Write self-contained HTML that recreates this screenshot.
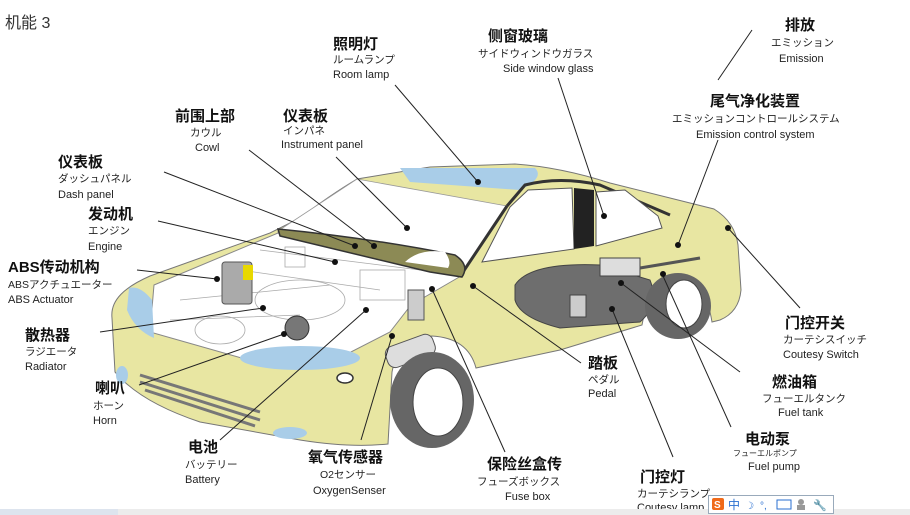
<!DOCTYPE html>
<html><head><meta charset="utf-8"><style>
html,body{margin:0;padding:0;background:#fff;width:910px;height:515px;overflow:hidden}
svg{display:block}
.c{font-family:"Liberation Sans","Noto Sans CJK SC",sans-serif;font-size:15px;font-weight:bold;fill:#111}
.j{font-family:"Liberation Sans","Noto Sans CJK JP",sans-serif;font-size:10.5px;fill:#222}
.e{font-family:"Liberation Sans",sans-serif;font-size:11px;fill:#222}
.l{stroke:#222;stroke-width:1;fill:none}
.d{fill:#111}
</style></head><body>
<svg width="910" height="515" viewBox="0 0 910 515" xmlns="http://www.w3.org/2000/svg">
<rect width="910" height="515" fill="#fff"/>
<!-- car body -->
<path d="M112,318 C110,300 125,287 150,276 L270,233 L300,218 Q330,195 357,179 L430,167 L515,164 Q560,167 610,183 L714,209 Q735,222 738,245 L741,290 Q739,312 720,320 L712,322 Q705,278 676,276 Q650,280 642,325 L560,350 L476,368 Q468,338 432,336 Q398,340 392,372 L388,444 Q350,448 300,440 L200,422 Q140,402 115,372 Z" fill="#e8e6a2" stroke="#777" stroke-width="1"/>
<!-- windshield -->
<path d="M278,231 L357,179 L507,206 L461,275 L278,236 Z" fill="#fff" stroke="#999" stroke-width="0.8"/>
<!-- sunroof -->
<path d="M400,168 L535,168 Q545,178 520,190 L410,182 Z" fill="#a9cde8"/>
<!-- roof dark edge -->
<path d="M507,206 L525,185 Q560,176 600,185 L670,215" stroke="#333" stroke-width="3" fill="none"/>
<path d="M507,206 L461,275" stroke="#333" stroke-width="3"/>
<!-- side windows -->
<path d="M482,262 L510,207 L528,190 L572,188 L574,249 Z" fill="#fff" stroke="#555"/>
<path d="M574,188 L594,190 L594,246 L574,249 Z" fill="#222"/>
<path d="M596,192 L625,190 L658,216 L662,228 L596,246 Z" fill="#fff" stroke="#555"/>
<!-- engine bay -->
<path d="M154,285 L278,233 L461,276 L411,305 L390,332 L349,353 L245,359 L150,332 Z" fill="#fff" stroke="#888"/>
<g stroke="#aaa" fill="none" stroke-width="0.8">
<ellipse cx="220" cy="330" rx="25" ry="14"/><ellipse cx="300" cy="300" rx="45" ry="20"/>
<path d="M180,300 L330,285 M170,320 L300,315 M240,270 L380,290 M260,250 L420,270"/>
<rect x="285" y="247" width="20" height="20"/><rect x="360" y="270" width="45" height="30"/>
</g>
<!-- dash -->
<path d="M278,229 Q370,238 455,255 Q470,265 462,277 L430,272 L280,236 Z" fill="#8c8a55" stroke="#333" stroke-width="1.5"/>
<path d="M405,262 Q420,248 445,252 Q452,262 448,268 Z" fill="#fff"/>
<!-- blue parts -->
<ellipse cx="300" cy="358" rx="60" ry="12" fill="#a9cde8"/>
<path d="M129,288 Q140,285 152,300 L154,338 Q135,330 127,310 Z" fill="#a9cde8"/>
<ellipse cx="290" cy="433" rx="17" ry="6" fill="#a9cde8"/>
<ellipse cx="122" cy="375" rx="6" ry="9" fill="#a9cde8"/>
<ellipse cx="345" cy="378" rx="8" ry="5" fill="#fff" stroke="#333" stroke-width="1.5"/>
<!-- grille -->
<path d="M140,375 L260,412 M140,382 L260,420 M145,390 L255,426" stroke="#777" stroke-width="3"/>
<!-- components -->
<rect x="222" y="262" width="30" height="42" rx="3" fill="#aaa" stroke="#555"/>
<rect x="243" y="265" width="10" height="15" fill="#e8d800"/>
<circle cx="297" cy="328" r="12" fill="#777" stroke="#333"/>
<rect x="385" y="340" width="50" height="22" rx="8" fill="#ddd" stroke="#555" transform="rotate(-20 410 350)"/>
<rect x="408" y="290" width="16" height="30" fill="#ccc" stroke="#555"/>
<!-- fuel tank -->
<path d="M515,285 Q530,262 600,265 L650,280 Q660,305 640,322 L560,328 Q520,318 515,300 Z" fill="#6e6e6e" stroke="#444"/>
<rect x="600" y="258" width="40" height="18" fill="#ddd" stroke="#444"/>
<path d="M640,268 L700,258" stroke="#555" stroke-width="3"/>
<rect x="570" y="295" width="16" height="22" fill="#ccc" stroke="#444"/>
<!-- wheels -->
<ellipse cx="432" cy="400" rx="42" ry="48" fill="#666"/>
<ellipse cx="438" cy="402" rx="25" ry="34" fill="#fff" stroke="#444"/>
<ellipse cx="678" cy="306" rx="33" ry="33" fill="#666"/>
<ellipse cx="684" cy="304" rx="18" ry="24" fill="#fff" stroke="#444"/>
<!-- leader lines -->
<g class="l">
<path d="M395,85 L478,182"/><path d="M558,78 L604,216"/><path d="M752,30 L718,80"/>
<path d="M718,140 L678,245"/><path d="M728,228 L800,308"/>
<path d="M249,150 L374,246"/><path d="M336,157 L407,228"/><path d="M164,172 L355,246"/>
<path d="M158,221 L335,262"/><path d="M137,270 L217,279"/><path d="M100,332 L263,308"/>
<path d="M139,385 L284,334"/><path d="M220,440 L366,310"/><path d="M361,440 L392,336"/>
<path d="M505,452 L432,289"/><path d="M581,363 L473,286"/><path d="M673,457 L612,309"/>
<path d="M740,372 L621,283"/><path d="M731,427 L663,276"/>
</g>
<g class="d">
<circle cx="478" cy="182" r="3"/><circle cx="604" cy="216" r="3"/><circle cx="678" cy="245" r="3"/>
<circle cx="728" cy="228" r="3"/><circle cx="374" cy="246" r="3"/><circle cx="407" cy="228" r="3"/>
<circle cx="355" cy="246" r="3"/><circle cx="335" cy="262" r="3"/><circle cx="217" cy="279" r="3"/>
<circle cx="263" cy="308" r="3"/><circle cx="284" cy="334" r="3"/><circle cx="366" cy="310" r="3"/>
<circle cx="392" cy="336" r="3"/><circle cx="432" cy="289" r="3"/><circle cx="473" cy="286" r="3"/>
<circle cx="612" cy="309" r="3"/><circle cx="621" cy="283" r="3"/><circle cx="663" cy="274" r="3"/>
</g>
<!-- labels -->
<text x="5" y="28" style="font-family:'Liberation Sans','Noto Sans CJK SC',sans-serif;font-size:16px;fill:#333">机能 3</text>
<text class="c" x="333" y="49">照明灯</text><text class="j" x="333" y="63">ルームランプ</text><text class="e" x="333" y="78">Room lamp</text>
<text class="c" x="488" y="41">侧窗玻璃</text><text class="j" x="478" y="57">サイドウィンドウガラス</text><text class="e" x="503" y="72">Side window glass</text>
<text class="c" x="785" y="30">排放</text><text class="j" x="771" y="46">エミッション</text><text class="e" x="779" y="62">Emission</text>
<text class="c" x="710" y="106">尾气净化装置</text><text class="j" x="672" y="122">エミッションコントロールシステム</text><text class="e" x="696" y="138">Emission control system</text>
<text class="c" x="175" y="121">前围上部</text><text class="j" x="190" y="136">カウル</text><text class="e" x="195" y="151">Cowl</text>
<text class="c" x="283" y="121">仪表板</text><text class="j" x="283" y="134">インパネ</text><text class="e" x="281" y="148">Instrument panel</text>
<text class="c" x="58" y="167">仪表板</text><text class="j" x="58" y="182">ダッシュパネル</text><text class="e" x="58" y="198">Dash panel</text>
<text class="c" x="88" y="219">发动机</text><text class="j" x="88" y="234">エンジン</text><text class="e" x="88" y="250">Engine</text>
<text class="c" x="8" y="272">ABS传动机构</text><text class="j" x="8" y="288">ABSアクチュエーター</text><text class="e" x="8" y="303">ABS Actuator</text>
<text class="c" x="25" y="340">散热器</text><text class="j" x="25" y="355">ラジエータ</text><text class="e" x="25" y="370">Radiator</text>
<text class="c" x="95" y="393">喇叭</text><text class="j" x="93" y="409">ホーン</text><text class="e" x="93" y="424">Horn</text>
<text class="c" x="188" y="452">电池</text><text class="j" x="185" y="468">バッテリー</text><text class="e" x="185" y="483">Battery</text>
<text class="c" x="308" y="462">氧气传感器</text><text class="j" x="320" y="478">O2センサー</text><text class="e" x="313" y="494">OxygenSenser</text>
<text class="c" x="487" y="469">保险丝盒传</text><text class="j" x="477" y="485">フューズボックス</text><text class="e" x="505" y="500">Fuse box</text>
<text class="c" x="588" y="368">踏板</text><text class="j" x="588" y="383">ペダル</text><text class="e" x="588" y="397">Pedal</text>
<text class="c" x="640" y="482">门控灯</text><text class="j" x="637" y="497">カーテシランプ</text><text class="e" x="637" y="511">Coutesy lamp</text>
<text class="c" x="745" y="444">电动泵</text><text class="j" x="733" y="456" style="font-size:8px">フューエルポンプ</text><text class="e" x="748" y="470">Fuel pump</text>
<text class="c" x="772" y="387">燃油箱</text><text class="j" x="762" y="402">フューエルタンク</text><text class="e" x="778" y="416">Fuel tank</text>
<text class="c" x="785" y="328">门控开关</text><text class="j" x="783" y="343">カーテシスイッチ</text><text class="e" x="783" y="358">Coutesy Switch</text>
<!-- bottom strip -->
<rect x="0" y="509" width="910" height="6" fill="#ececec"/>
<rect x="0" y="509" width="118" height="6" fill="#dde4ee"/>
<!-- IME toolbar -->
<rect x="708.5" y="495.5" width="125" height="18" fill="#fff" stroke="#9ab"/>
<rect x="712" y="498" width="12" height="12" rx="2" fill="#f06a1a"/>
<text x="714" y="508" style="font-family:'Liberation Sans',sans-serif;font-size:10px;font-weight:bold;fill:#fff">S</text>
<text x="728" y="509" style="font-family:'Liberation Sans','Noto Sans CJK SC',sans-serif;font-size:12px;fill:#2a6fd0">中</text>
<text x="745" y="509" style="font-family:'DejaVu Sans',sans-serif;font-size:10px;fill:#2a6fd0">☽</text>
<text x="760" y="509" style="font-family:'Liberation Sans',sans-serif;font-size:10px;fill:#2a6fd0">°,</text>
<rect x="777" y="500" width="14" height="9" fill="#fff" stroke="#2a6fd0"/>
<circle cx="801" cy="502" r="3" fill="#999"/><rect x="797" y="505" width="8" height="5" fill="#999"/>
<text x="813" y="509" style="font-family:'DejaVu Sans',sans-serif;font-size:11px;fill:#2a6fd0">🔧</text>
</svg>
</body></html>
